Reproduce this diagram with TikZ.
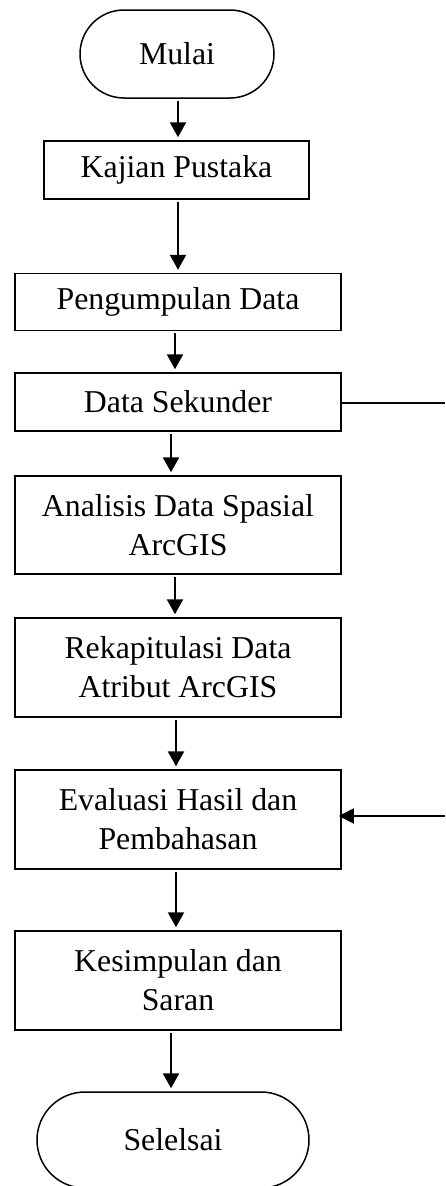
\documentclass[tikz,border=0pt]{standalone}
\usepackage{fontspec}
\setmainfont{Liberation Serif}
\usetikzlibrary{arrows.meta}

\begin{document}
\begin{tikzpicture}[x=1pt,y=-1pt,
  font=\fontsize{31.8}{39}\selectfont,
  box/.style={draw, line width=1.5pt, align=center, inner sep=0pt,
              minimum width=326pt},
  term/.style={draw, line width=1.5pt, inner sep=0pt},
  flow/.style={-{Triangle[length=15pt,width=16pt]}, line width=2.3pt,
               shorten <=2pt, shorten >=3pt},
  side/.style={line width=1.2pt}]
\useasboundingbox (0,0) rectangle (445,1186);

% terminators and process steps
\node[term, minimum width=194pt, minimum height=88pt, rounded corners=44pt]
  (start) at (177,54) {Mulai};
\node[box, minimum width=265pt, minimum height=58pt] (kaj) at (176.5,170) {Kajian Pustaka};
\node[box, minimum height=57pt] (peng) at (178,302) {Pengumpulan Data};
\node[box, minimum height=58pt] (ds) at (178,402) {Data Sekunder};
\node[box, minimum height=98pt] (ana) at (178,525) {Analisis Data Spasial\\ArcGIS};
\node[box, minimum height=99pt] (rek) at (178,667.5) {Rekapitulasi Data\\Atribut ArcGIS};
\node[box, minimum height=99pt] (eva) at (178,819.5) {Evaluasi Hasil dan\\Pembahasan};
\node[box, minimum height=99pt] (kes) at (178,980.5) {Kesimpulan dan\\Saran};
\node[term, minimum width=272pt, minimum height=96pt, rounded corners=48pt]
  (end) at (173,1140) {Selelsai};

% main flow
\draw[flow] ([xshift=1pt]start.south) -- ([xshift=1pt]start.south |- kaj.north);
\draw[flow] ([xshift=1.5pt]kaj.south) -- ([xshift=1.5pt]kaj.south |- peng.north);
\draw[flow] ([xshift=-3pt]peng.south) -- ([xshift=-3pt]peng.south |- ds.north);
\draw[flow] ([xshift=-7pt]ds.south) -- ([xshift=-7pt]ds.south |- ana.north);
\draw[flow] ([xshift=-3pt]ana.south) -- ([xshift=-3pt]ana.south |- rek.north);
\draw[flow] ([xshift=-2pt]rek.south) -- ([xshift=-2pt]rek.south |- eva.north);
\draw[flow] ([xshift=-2pt]eva.south) -- ([xshift=-2pt]eva.south |- kes.north);
\draw[flow] ([xshift=-7pt]kes.south) -- ([xshift=-7pt]kes.south |- end.north);

% side branch from the secondary data to the evaluation
\coordinate (r1) at (445,403);
\coordinate (r2) at (445,816);
\draw[side] (ds.east |- r1) -- (r1);
\draw[-{Triangle[length=15pt,width=15pt]}, line width=1.8pt]
  (r2) -- ([xshift=-3pt]eva.east |- r2);
\end{tikzpicture}
\end{document}
